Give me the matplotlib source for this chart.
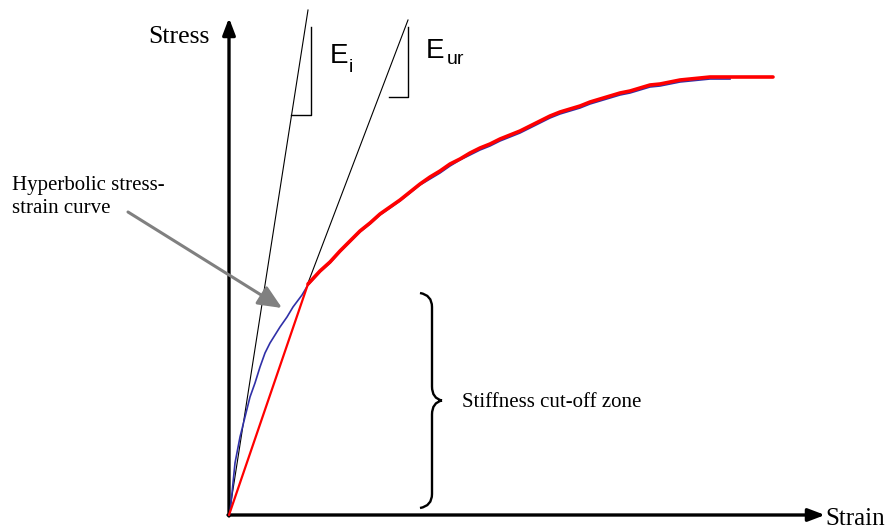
import numpy as np
import matplotlib.pyplot as plt
from matplotlib.path import Path
from matplotlib.patches import PathPatch

## donnees (deformation, contrainte) - unites arbitraires, origine au croisement des axes

# courbe hyperbolique (bleue)
strain_hyp = [0, 1, 6, 11, 16, 21, 26, 31, 36, 41, 46, 51, 58, 64, 73, 79,
              91, 101, 111, 121, 131, 141, 151, 161, 171, 181, 191, 201, 211, 221, 231,
              241, 251, 261, 271, 281, 291, 301, 311, 321, 331, 341, 351, 361, 371, 381,
              391, 401, 411, 421, 431, 441, 451, 461, 471, 481, 491, 501]
stress_hyp = [0, 2, 52, 78, 98, 118, 132, 148, 162, 172, 180, 188, 198, 208, 220, 230,
              243, 252, 263, 273, 283, 291, 300, 307, 314, 322, 330, 336, 342, 349, 355,
              360, 365, 369, 374, 378, 382, 387, 392, 397, 401, 404, 407, 411, 414, 417,
              420, 422, 425, 428, 429, 431, 433, 434, 435, 436, 436, 436]

# courbe avec coupure de rigidite (rouge) : droite puis hyperbole
strain_cut = [0, 79, 91, 101, 111, 121, 131, 141, 151, 161, 171, 181, 191, 201, 211, 221,
              231, 241, 251, 261, 271, 281, 291, 301, 311, 321, 331, 341, 351, 361, 371,
              381, 391, 401, 411, 421, 431, 441, 451, 461, 471, 481, 501, 544]
stress_cut = [0, 231, 244, 253, 264, 274, 284, 292, 301, 308, 315, 323, 331, 338, 344, 351,
              356, 362, 367, 371, 376, 380, 384, 389, 394, 399, 403, 406, 409, 413, 416,
              419, 422, 424, 427, 430, 431, 433, 435, 436, 437, 438, 438, 438]

# tangentes
tangent_i = ([0, 79], [0, 505])
tangent_ur = ([79, 179], [232, 495])

# petits triangles de pente
tri_i = ([62, 82, 82], [400, 400, 488])
tri_ur = ([160, 179, 179], [418, 418, 488])

# zone de coupure (accolade)
brace_top = 222
brace_bottom = 7

## figure

fig = plt.figure(figsize=(8.9, 5.3), dpi=100)
ax = fig.add_axes([0, 0, 1, 1])
ax.set_xlim(-229, 661)
ax.set_ylim(-15, 515)
ax.axis('off')

serif = 'Liberation Serif'
sans = 'Liberation Sans'

# axes avec fleches
axe = dict(arrowstyle='-|>,head_length=0.5,head_width=0.19', lw=2.4, color='black',
           shrinkA=0, shrinkB=0, mutation_scale=20)
ax.annotate('', xy=(0, 497), xytext=(0, -1), arrowprops=axe)
ax.annotate('', xy=(596, 0), xytext=(-1, 0), arrowprops=axe)

# tangentes et triangles
ax.plot(*tangent_i, color='black', lw=0.8)
ax.plot(*tangent_ur, color='black', lw=0.8)
ax.plot(*tri_i, color='black', lw=1.0)
ax.plot(*tri_ur, color='black', lw=1.0)

# courbes
ax.plot(strain_hyp, stress_hyp, color='#3030a8', lw=1.2, zorder=3)
ax.plot(strain_cut[:2], stress_cut[:2], color='red', lw=1.6, zorder=4, solid_capstyle='round')
ax.plot(strain_cut[1:], stress_cut[1:], color='red', lw=2.6, zorder=4, solid_capstyle='round')

# fleche grise vers la courbe hyperbolique
ax.annotate('', xy=(53, 207), xytext=(-101, 303),
            arrowprops=dict(arrowstyle='-|>,head_length=0.72,head_width=0.32', lw=2.2,
                            color='#808080', shrinkA=0, shrinkB=0, mutation_scale=20))

# accolade
xb = 191
tip = (brace_top + brace_bottom) / 2
verts = [(xb, brace_top), (xb + 12, brace_top - 2), (xb + 12, brace_top - 14),
         (xb + 12, tip + 14), (xb + 12, tip + 2), (xb + 22, tip),
         (xb + 22, tip), (xb + 12, tip - 2), (xb + 12, tip - 14),
         (xb + 12, brace_bottom + 14), (xb + 12, brace_bottom + 2), (xb, brace_bottom)]
codes = [Path.MOVETO, Path.CURVE3, Path.CURVE3, Path.LINETO, Path.CURVE3, Path.CURVE3,
         Path.MOVETO, Path.CURVE3, Path.CURVE3, Path.LINETO, Path.CURVE3, Path.CURVE3]
ax.add_patch(PathPatch(Path(verts, codes), fill=False, lw=1.7, color='black'))

# textes
ax.text(-81, 472, 'Stress', family=serif, fontsize=18.5, va='baseline')
ax.text(596, -10, 'Strain', family=serif, fontsize=18, va='baseline')
ax.text(-217, 325, 'Hyperbolic stress-', family=serif, fontsize=15, va='baseline')
ax.text(-217, 302, 'strain curve', family=serif, fontsize=15, va='baseline')
ax.text(233, 108, 'Stiffness cut-off zone', family=serif, fontsize=15, va='baseline')

ax.text(101, 452, 'E', family=sans, fontsize=20, va='baseline')
ax.text(120, 443, 'i', family=sans, fontsize=14, va='baseline')
ax.text(197, 457, 'E', family=sans, fontsize=20, va='baseline')
ax.text(218, 451, 'ur', family=sans, fontsize=14, va='baseline')

fig.savefig('out.png', dpi=100)
